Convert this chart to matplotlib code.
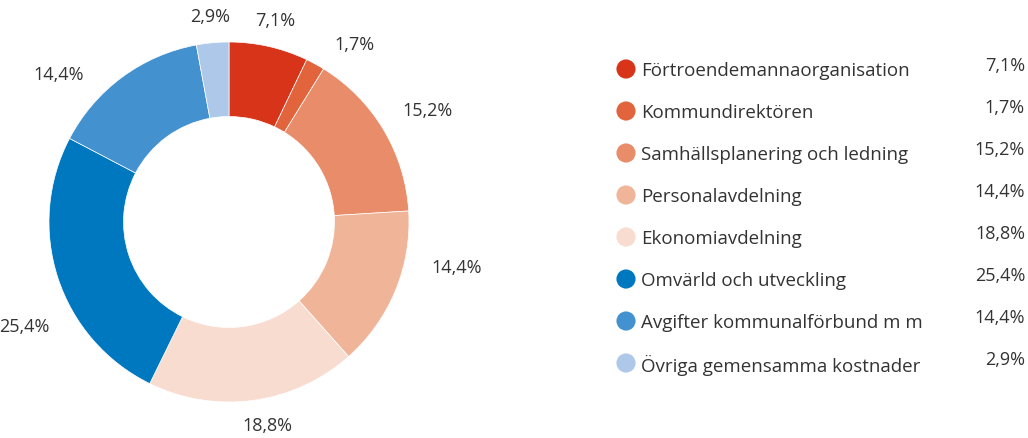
import numpy as np
import matplotlib
matplotlib.use("Agg")
import matplotlib.pyplot as plt

plt.rcParams['font.family'] = ['Open Sans', 'DejaVu Sans']

# data
kategorier = ["Förtroendemannaorganisation", "Kommundirektören",
              "Samhällsplanering och ledning", "Personalavdelning",
              "Ekonomiavdelning", "Omvärld och utveckling",
              "Avgifter kommunalförbund m m", "Övriga gemensamma kostnader"]
andelar = [7.1, 1.7, 15.2, 14.4, 18.8, 25.4, 14.4, 2.9]
farger = ["#d7341a", "#e2643c", "#e98c69", "#f0b498",
          "#f8dccf", "#0078c0", "#4392cf", "#adc8e9"]

# small angular nudges (degrees) so the ring labels sit like the original
label_nudge = [0, -2, 2, 10, 3, 12, 8, 0]

textfarg = "#333333"


def fmt(v):
    return f"{v:.1f}%".replace(".", ",")


fig = plt.figure(figsize=(10.28, 4.39), dpi=100)

# donut
ax = fig.add_axes([49 / 1028, (439 - 403) / 439, 360 / 1028, 360 / 439])
wedges, _ = ax.pie(andelar, colors=farger, startangle=90, counterclock=False,
                   wedgeprops=dict(width=0.414, edgecolor="white", linewidth=0.5))
ax.set_xlim(-1, 1)
ax.set_ylim(-1, 1)
ax.set_aspect("equal")

for w, v, nudge in zip(wedges, andelar, label_nudge):
    vinkel = np.deg2rad((w.theta1 + w.theta2) / 2 + nudge)
    x = 1.15 * np.cos(vinkel)
    y = 1.15 * np.sin(vinkel)
    if abs(np.cos(vinkel)) < 0.3:
        ha = "center"
    elif x > 0:
        ha = "left"
    else:
        ha = "right"
    ax.text(x, y, fmt(v), ha=ha, va="center", fontsize=13, color=textfarg,
            clip_on=False)

# legend, drawn in pixel coordinates
lax = fig.add_axes([0, 0, 1, 1])
lax.set_xlim(0, 1028)
lax.set_ylim(439, 0)
lax.axis("off")

y0 = 70
steg = 42
for i, (namn, v, f) in enumerate(zip(kategorier, andelar, farger)):
    y = y0 + i * steg
    lax.scatter([626], [y], s=190, color=f, edgecolors="none")
    lax.text(641, y + 1, namn, ha="left", va="center", fontsize=13.5, color=textfarg)
    lax.text(1025, y - 4, fmt(v), ha="right", va="center", fontsize=13, color=textfarg)

fig.savefig("out.png", dpi=100)
